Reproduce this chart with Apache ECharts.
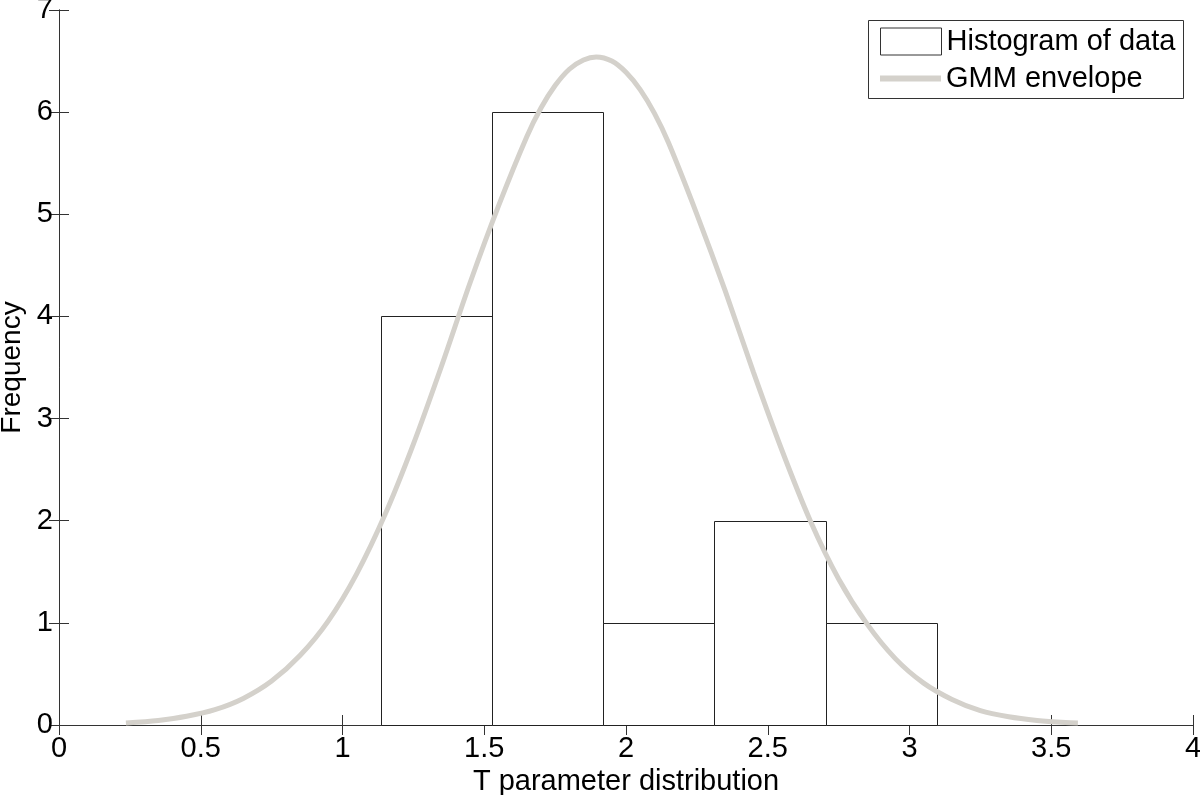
<!DOCTYPE html>
<html>
<head>
<meta charset="utf-8">
<script src="https://cdn.jsdelivr.net/npm/echarts@6/dist/echarts.min.js"></script>
<style>
html,body{margin:0;padding:0;background:#fff;}
#chart{width:1200px;height:795px;}
</style>
</head>
<body>
<div id="chart"></div>
<script>
// Histogram bins (edges) and counts
const binEdges = [1.135, 1.527, 1.920, 2.312, 2.704, 3.097];
const binCounts = [4, 6, 1, 2, 1];

// GMM envelope curve
const curveX = [0.236, 0.35, 0.45, 0.55, 0.65, 0.75, 0.85, 0.95, 1.05, 1.15, 1.25, 1.35, 1.45, 1.55, 1.65, 1.70, 1.75, 1.80, 1.85, 1.895, 1.95, 2.00, 2.05, 2.10, 2.15, 2.25, 2.35, 2.45, 2.55, 2.65, 2.75, 2.85, 2.95, 3.05, 3.15, 3.25, 3.35, 3.45, 3.55, 3.594];
const curveY = [0.02, 0.045, 0.085, 0.15, 0.26, 0.43, 0.68, 1.02, 1.48, 2.06, 2.75, 3.52, 4.33, 5.08, 5.76, 6.04, 6.26, 6.42, 6.51, 6.54, 6.50, 6.39, 6.22, 5.99, 5.70, 5.00, 4.25, 3.45, 2.69, 2.00, 1.43, 0.99, 0.65, 0.41, 0.25, 0.14, 0.08, 0.045, 0.024, 0.02];

const xTicks = { min: 0, max: 4, interval: 0.5 };
const yTicks = { min: 0, max: 7, interval: 1 };

const histData = binCounts.map((c, i) => [binEdges[i], binEdges[i + 1], c]);
const curveData = curveX.map((x, i) => [x, curveY[i]]);

const FONT = "'Liberation Sans', Arial, sans-serif";
const FS = 29;
const AX = '#333';
const CURVE = '#d4d1cb';

const chart = echarts.init(document.getElementById('chart'));
const axisCommon = {
  axisLine: { show: true, lineStyle: { color: AX, width: 1 } },
  axisTick: { show: true, inside: true, length: 10, lineStyle: { color: AX, width: 1 } },
  splitLine: { show: false }
};
chart.setOption({
  animation: false,
  backgroundColor: '#fff',
  grid: { left: 59, right: 7, top: 10, bottom: 70, containLabel: false, outerBoundsMode: 'none' },
  xAxis: [
    Object.assign({
      type: 'value', min: xTicks.min, max: xTicks.max, interval: xTicks.interval, position: 'bottom',
      name: 'T parameter distribution', nameLocation: 'middle', nameGap: 39,
      nameTextStyle: { fontSize: FS, color: '#000', fontFamily: FONT },
      axisLabel: { show: true, fontSize: FS, color: '#000', fontFamily: FONT, margin: 9 }
    }, axisCommon),
    Object.assign({
      type: 'value', min: xTicks.min, max: xTicks.max, interval: xTicks.interval, position: 'top',
      axisLabel: { show: false }
    }, axisCommon)
  ],
  yAxis: [
    Object.assign({
      type: 'value', min: yTicks.min, max: yTicks.max, interval: yTicks.interval, position: 'left',
      name: 'Frequency', nameLocation: 'middle', nameGap: 32,
      nameTextStyle: { fontSize: 28, color: '#000', fontFamily: FONT },
      axisLabel: { show: true, fontSize: FS, color: '#000', fontFamily: FONT, margin: 6 }
    }, axisCommon),
    Object.assign({
      type: 'value', min: yTicks.min, max: yTicks.max, interval: yTicks.interval, position: 'right',
      axisLabel: { show: false }
    }, axisCommon)
  ],
  legend: [
    {
      left: 880, top: 27, padding: 0, itemWidth: 61, itemHeight: 27,
      textStyle: { fontSize: FS, color: '#000', fontFamily: FONT, lineHeight: 28 },
      data: [{ name: 'Histogram of data', icon: 'rect', itemStyle: { color: '#fff', borderColor: AX, borderWidth: 1 } }]
    },
    {
      left: 880, top: 64, padding: 0, itemWidth: 61, itemHeight: 6,
      textStyle: { fontSize: FS, color: '#000', fontFamily: FONT, lineHeight: 28 },
      data: [{ name: 'GMM envelope', icon: 'rect', itemStyle: { color: CURVE, borderWidth: 0 } }]
    }
  ],
  graphic: [
    {
      type: 'rect', z: 1, silent: true,
      shape: { x: 868.5, y: 20.5, width: 315, height: 78 },
      style: { fill: '#fff', stroke: AX, lineWidth: 1 }
    }
  ],
  series: [
    {
      name: 'Histogram of data',
      type: 'custom',
      xAxisIndex: 0, yAxisIndex: 0,
      z: 2,
      data: histData,
      encode: { x: [0, 1], y: 2 },
      renderItem: function (params, api) {
        const p0 = api.coord([api.value(0), 0]);
        const p1 = api.coord([api.value(1), api.value(2)]);
        const x0 = Math.round(p0[0]) + 0.5, x1 = Math.round(p1[0]) + 0.5;
        const y0 = Math.round(p0[1]) + 0.5, y1 = Math.round(p1[1]) + 0.5;
        return {
          type: 'rect',
          shape: { x: x0, y: y1, width: x1 - x0, height: y0 - y1 },
          style: { fill: '#fff', stroke: '#222', lineWidth: 1 }
        };
      }
    },
    {
      name: 'GMM envelope',
      type: 'line',
      xAxisIndex: 0, yAxisIndex: 0,
      z: 3,
      data: curveData,
      smooth: 0.3,
      showSymbol: false,
      symbol: 'none',
      lineStyle: { color: CURVE, width: 5 },
      itemStyle: { color: CURVE }
    }
  ]
});
</script>
</body>
</html>
